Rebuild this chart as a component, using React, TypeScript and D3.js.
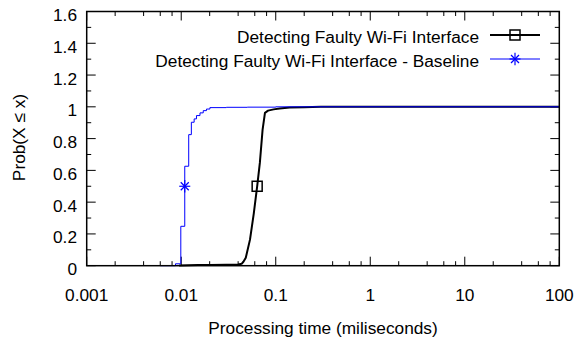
import React from "react";
import * as d3 from "d3";

// Detecting Faulty Wi-Fi Interface (black, squares)
const faultyX = [0.0095, 0.015, 0.02, 0.03, 0.04, 0.0435, 0.0455, 0.0482, 0.0534, 0.0586, 0.0636, 0.0679, 0.0726, 0.0769, 0.0829, 0.095, 0.11, 0.14, 0.2, 0.3, 100];
const faultyY = [0.002, 0.004, 0.005, 0.006, 0.008, 0.012, 0.025, 0.05, 0.164, 0.33, 0.5, 0.647, 0.857, 0.962, 0.976, 0.984, 0.989, 0.995, 0.998, 1.0, 1.0];
// Baseline (blue, asterisk) – step CDF
const baseX = [0.006, 0.0087, 0.0099, 0.0109, 0.012, 0.0128, 0.0137, 0.0145, 0.0158, 0.0171, 0.0185, 0.0201, 0.03, 0.05, 0.1, 100];
const baseY = [0, 0.012, 0.248, 0.626, 0.825, 0.903, 0.924, 0.945, 0.962, 0.976, 0.986, 0.995, 0.997, 0.998, 1.0, 1.0];
// marker points
const faultyMarker = [0.0636, 0.5];
const baseMarker = [0.0109, 0.5];

const xTicks = [0.001, 0.01, 0.1, 1, 10, 100];
const xTickLabels = ["0.001", "0.01", "0.1", "1", "10", "100"];
const yTicks = [0, 0.2, 0.4, 0.6, 0.8, 1, 1.2, 1.4, 1.6];
const yTickLabels = ["0", "0.2", "0.4", "0.6", "0.8", "1", "1.2", "1.4", "1.6"];
const seriesNames = ["Detecting Faulty Wi-Fi Interface", "Detecting Faulty Wi-Fi Interface - Baseline"];

const W = 576, H = 344;
const L = 86.7, R = 559.3, T = 11.5, B = 265.7;
const FONT = "'Liberation Sans', Arial, Helvetica, sans-serif";
const FS = 17.3;

export default function App() {
  const x = d3.scaleLog().domain([0.001, 100]).range([L, R]);
  const y = d3.scaleLinear().domain([0, 1.6]).range([B, T]);

  const faultyPts: [number, number][] = faultyX.map((v, i) => [v, faultyY[i]]);
  const basePts: [number, number][] = baseX.map((v, i) => [v, baseY[i]]);
  const lineLin = d3.line<[number, number]>().x(d => x(d[0])).y(d => y(d[1]));
  const lineStep = d3.line<[number, number]>().x(d => x(d[0])).y(d => y(d[1])).curve(d3.curveStepAfter);

  const major = 9, minor = 4.5;
  const minorX: number[] = [];
  for (let e = -3; e < 2; e++) for (const m of [2, 4, 6, 8]) minorX.push(m * Math.pow(10, e));
  const minorY = d3.range(0.1, 1.6, 0.2);

  const square = (cx: number, cy: number, key: string) => (
    <rect key={key} x={cx - 5} y={cy - 5} width={10} height={10} fill="none" stroke="#000" strokeWidth={1.5} />
  );
  const star = (cx: number, cy: number, key: string) => {
    const s = 5.5, d = 4;
    return (
      <g key={key} stroke="#0000ff" strokeWidth={1.2}>
        <line x1={cx - s} y1={cy} x2={cx + s} y2={cy} />
        <line x1={cx} y1={cy - s - 0.8} x2={cx} y2={cy + s + 0.8} />
        <line x1={cx - d} y1={cy - d} x2={cx + d} y2={cy + d} />
        <line x1={cx - d} y1={cy + d} x2={cx + d} y2={cy - d} />
      </g>
    );
  };

  const legendTextX = 479;
  const legendLineX1 = 490, legendLineX2 = 540;
  const legendY = [35, 59];

  return (
    <svg width={W} height={H} style={{ position: "absolute", left: 0, top: 0, background: "#fff" }} fontFamily={FONT}>
      {/* ticks */}
      <g stroke="#000" strokeWidth={1}>
        {xTicks.map((t, i) => (
          <g key={"xt" + i}>
            <line x1={x(t)} x2={x(t)} y1={B} y2={B - major} />
            <line x1={x(t)} x2={x(t)} y1={T} y2={T + major} />
          </g>
        ))}
        {minorX.map((t, i) => (
          <g key={"xm" + i}>
            <line x1={x(t)} x2={x(t)} y1={B} y2={B - minor} />
            <line x1={x(t)} x2={x(t)} y1={T} y2={T + minor} />
          </g>
        ))}
        {yTicks.map((t, i) => (
          <g key={"yt" + i}>
            <line x1={L} x2={L + major} y1={y(t)} y2={y(t)} />
            <line x1={R} x2={R - major} y1={y(t)} y2={y(t)} />
          </g>
        ))}
        {minorY.map((t, i) => (
          <g key={"ym" + i}>
            <line x1={L} x2={L + minor} y1={y(t)} y2={y(t)} />
            <line x1={R} x2={R - minor} y1={y(t)} y2={y(t)} />
          </g>
        ))}
      </g>

      {/* curves */}
      <path d={lineLin(faultyPts) || ""} fill="none" stroke="#000" strokeWidth={2} strokeLinejoin="round" />
      <path d={lineStep(basePts) || ""} fill="none" stroke="#0000ff" strokeWidth={1} />
      {square(x(faultyMarker[0]), y(faultyMarker[1]), "m1")}
      {star(x(baseMarker[0]), y(baseMarker[1]), "m2")}

      {/* border */}
      <rect x={L} y={T} width={R - L} height={B - T} fill="none" stroke="#000" strokeWidth={1.5} />

      {/* tick labels */}
      <g fontSize={FS} fill="#000">
        {xTicks.map((t, i) => (
          <text key={"xl" + i} x={x(t)} y={300.5} textAnchor="middle">{xTickLabels[i]}</text>
        ))}
        {yTicks.map((t, i) => (
          <text key={"yl" + i} x={77} y={y(t) + 9.5} textAnchor="end">{yTickLabels[i]}</text>
        ))}
      </g>

      {/* axis titles */}
      <text x={(L + R) / 2} y={334} textAnchor="middle" fontSize={FS}>Processing time (miliseconds)</text>
      <text transform={`translate(25,137.5) rotate(-90)`} textAnchor="middle" fontSize={FS}>Prob(X ≤ x)</text>

      {/* legend */}
      <g fontSize={FS}>
        <text x={legendTextX} y={legendY[0] + 7.5} textAnchor="end">{seriesNames[0]}</text>
        <line x1={legendLineX1} x2={legendLineX2} y1={legendY[0]} y2={legendY[0]} stroke="#000" strokeWidth={2} />
        {square((legendLineX1 + legendLineX2) / 2, legendY[0], "lm1")}
        <text x={legendTextX} y={legendY[1] + 7.5} textAnchor="end">{seriesNames[1]}</text>
        <line x1={legendLineX1} x2={legendLineX2} y1={legendY[1]} y2={legendY[1]} stroke="#0000ff" strokeWidth={1} />
        {star((legendLineX1 + legendLineX2) / 2, legendY[1], "lm2")}
      </g>
    </svg>
  );
}
